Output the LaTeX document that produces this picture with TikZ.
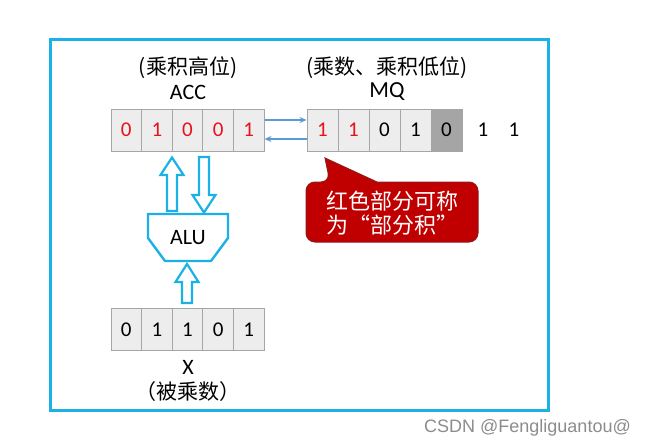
\documentclass[tikz,border=0pt]{standalone}
\usepackage{fontspec}
\setmainfont{Carlito}
\newfontfamily\cjk{Noto Sans CJK SC}
\newfontfamily\wmfont{Liberation Sans}
\usetikzlibrary{arrows.meta,calc}
\definecolor{frameblue}{HTML}{1CB1E6}
\definecolor{cellfill}{HTML}{EDEDED}
\definecolor{celldraw}{HTML}{A6A6A6}
\definecolor{darkcell}{HTML}{A5A5A5}
\definecolor{digitred}{HTML}{E8101A}
\definecolor{thinblue}{HTML}{5B9BD5}
\definecolor{calloutred}{HTML}{C00000}
\definecolor{calloutedge}{HTML}{8E1B1B}
\definecolor{wmgray}{HTML}{8C8C8C}
\begin{document}
\begin{tikzpicture}[x=1pt,y=-1pt,
  regcell/.style={draw=celldraw, fill=cellfill, line width=1pt, minimum width=30.6pt,
    minimum height=42pt, inner sep=0pt, font=\fontsize{21}{24}\selectfont},
  bare/.style={inner sep=0pt, font=\fontsize{21}{24}\selectfont},
  lbl/.style={inner sep=0pt, font=\cjk\fontsize{21}{24}\selectfont},
  regname/.style={inner sep=0pt, font=\fontsize{22}{24}\selectfont},
  thinarrow/.style={draw=thinblue, line width=1.2pt, -{Stealth[length=7pt,width=6pt]}},
  hollow/.style={draw=frameblue, fill=white, line width=2.2pt, line join=miter},
  calloutbox/.style={fill=calloutred, draw=calloutedge, line width=1pt},
  callouttext/.style={inner sep=0pt, text=white, align=left, font=\cjk\fontsize{22}{23.5}\selectfont}
]
\useasboundingbox (0,0) rectangle (650,447);
% frame
\draw[frameblue, line width=3pt] (50,39) rectangle (548,410);

% ACC register
\foreach \d [count=\i] in {0,1,0,0,1}
  \node[regcell, text=digitred] (acc\i) at ({95.7+30.6*\i},130) {\d};
\node[lbl] (acclbl) at (188,68) {(乘积高位)};
\node[regname] (accname) at (188,92) {ACC};

% MQ register
\foreach \d/\c [count=\i] in {1/digitred,1/digitred,0/black,1/black}
  \node[regcell, text=\c, minimum width=31pt] (mq\i) at ({291.5+31*\i},130) {\d};
\node[regcell, fill=darkcell, draw=darkcell, minimum width=31pt] (mq5) at (446.5,130) {0};
\node[bare] (mq6) at (483,130) {1};
\node[bare] (mq7) at (514,130) {1};
\node[lbl] (mqlbl) at (387,68) {(乘数、乘积低位)};
\node[regname, font=\fontsize{23}{24}\selectfont] (mqname) at (387,92) {MQ};

% thin arrows between ACC and MQ
\draw[thinarrow] ([yshift=10pt]acc5.east) -- ([yshift=10pt]mq1.west);
\draw[thinarrow] ([yshift=-9pt]mq1.west) -- ([yshift=-9pt]acc5.east);

% ALU
\draw[draw=frameblue, line width=2.4pt, line join=miter]
  (148,214) -- (228,214) -- (228,238) -- (211,261) -- (165,261) -- (148,238) -- cycle;
\node[regname] (alu) at (188,238) {ALU};

% hollow arrows ALU <-> ACC
\draw[hollow] (167,211) -- (167,175) -- (160.5,175) -- (172,157.5) -- (183.5,175)
  -- (177,175) -- (177,211) -- cycle;
\draw[hollow] (199,157) -- (199,195) -- (192.5,195) -- (204,212.5) -- (215.5,195)
  -- (209,195) -- (209,157) -- cycle;
% hollow arrow X -> ALU
\draw[hollow] (182,303) -- (182,282) -- (175.5,282) -- (187,264) -- (198.5,282)
  -- (192,282) -- (192,303) -- cycle;

% X register
\foreach \d [count=\i] in {0,1,1,0,1}
  \node[regcell] (x\i) at ({95.7+30.6*\i},329.5) {\d};
\node[regname] (xname) at (188,367) {X};
\node[lbl] (xlbl) at (188,392) {（被乘数）};

% callout
\draw[calloutbox, rounded corners=9pt] (306,212) |- (330,182)
  [sharp corners] -- (325,158) -- (377,182)
  [rounded corners=9pt] -| (478,242) -| cycle;
\node[callouttext, anchor=west] (callout) at (326.5,213) {红色部分可称\\为“部分积”};

% watermark text
\node[inner sep=0pt, anchor=west, text=wmgray, font=\wmfont\fontsize{18}{20}\selectfont] (csdn) at (424,428) {CSDN @Fengliguantou@};
\end{tikzpicture}
\end{document}
